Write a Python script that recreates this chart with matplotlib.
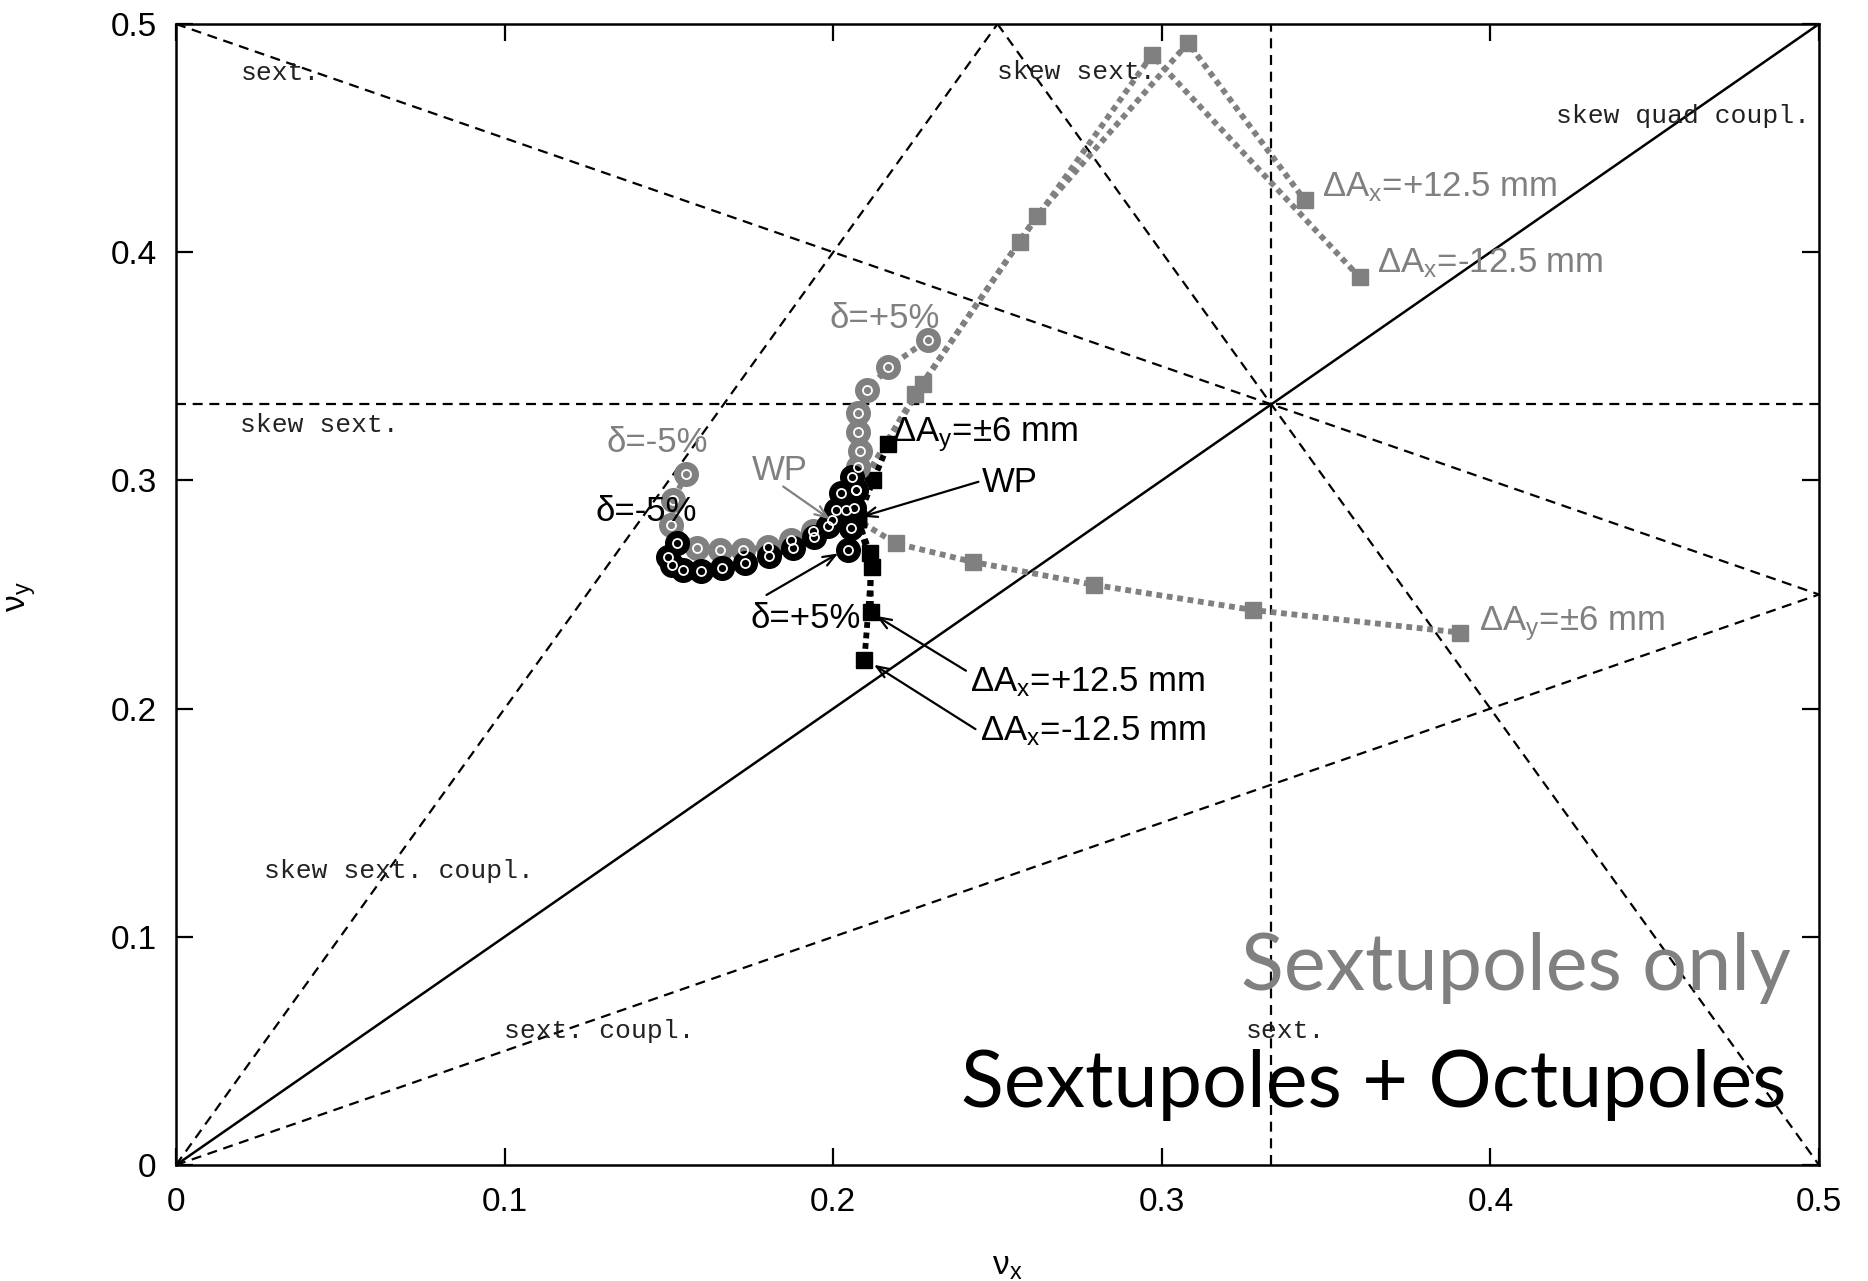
import matplotlib
matplotlib.use('Agg')
import matplotlib.pyplot as plt

plt.rcParams['mathtext.fontset'] = 'custom'
plt.rcParams['mathtext.rm'] = 'Liberation Sans'
plt.rcParams['mathtext.it'] = 'Liberation Sans'
plt.rcParams['font.family'] = ['Liberation Sans', 'DejaVu Sans']

# ---------------- data ----------------
# Sextupoles only (gray)
g_delta_x = [0.1553, 0.1513, 0.1507, 0.1584, 0.1655, 0.1726, 0.1802, 0.1873, 0.1940, 0.1995,
             0.2040, 0.2070, 0.2076, 0.2081, 0.2076, 0.2076, 0.2104, 0.2168, 0.2287]
g_delta_y = [0.3027, 0.2914, 0.2804, 0.2702, 0.2695, 0.2695, 0.2709, 0.2738, 0.2780, 0.2826,
             0.2870, 0.2960, 0.3060, 0.3130, 0.3213, 0.3294, 0.3396, 0.3495, 0.3615]
g_axp_x = [0.2035, 0.2273, 0.2620, 0.3080, 0.3435]
g_axp_y = [0.2860, 0.3424, 0.4160, 0.4917, 0.4228]
g_axm_x = [0.2035, 0.2250, 0.2567, 0.2970, 0.3602]
g_axm_y = [0.2860, 0.3380, 0.4045, 0.4864, 0.3890]
g_ay_x = [0.2035, 0.2191, 0.2424, 0.2795, 0.3277, 0.3908]
g_ay_y = [0.2860, 0.2724, 0.2643, 0.2542, 0.2432, 0.2333]

# Sextupoles + Octupoles (black)
b_delta_x = [0.1526, 0.1497, 0.1510, 0.1543, 0.1597, 0.1662, 0.1731, 0.1804, 0.1878, 0.1943,
             0.1985, 0.2010, 0.2025, 0.2056, 0.2070, 0.2062, 0.2055, 0.2046]
b_delta_y = [0.2724, 0.2665, 0.2628, 0.2607, 0.2604, 0.2615, 0.2636, 0.2669, 0.2702, 0.2751,
             0.2800, 0.2870, 0.2944, 0.3016, 0.2960, 0.2880, 0.2790, 0.2695]
b_ay_x = [0.2075, 0.2122, 0.2168]
b_ay_y = [0.2830, 0.3000, 0.3159]
b_axp_x = [0.2075, 0.2112, 0.2115]
b_axp_y = [0.2830, 0.2680, 0.2424]
b_axm_x = [0.2075, 0.2117, 0.2095]
b_axm_y = [0.2830, 0.2622, 0.2213]

# resonance lines (x0, y0, x1, y1)
res_dashed = [(0, 0.5, 0.5, 0.25), (0, 0, 0.25, 0.5), (0.25, 0.5, 0.5, 0),
              (0, 1/3, 0.5, 1/3), (1/3, 0, 1/3, 0.5), (0, 0, 0.5, 0.25)]
res_solid = [(0, 0, 0.5, 0.5)]
res_labels = [("sext.", 0.0196, 0.4755), ("skew sext.", 0.2498, 0.4760),
              ("skew quad coupl.", 0.4201, 0.4567), ("skew sext.", 0.0196, 0.3210),
              ("skew sext. coupl.", 0.0269, 0.1258), ("sext. coupl.", 0.0999, 0.0558),
              ("sext.", 0.3256, 0.0558)]

ticks = [0, 0.1, 0.2, 0.3, 0.4, 0.5]
tick_labels = ["0", "0.1", "0.2", "0.3", "0.4", "0.5"]

GRAY = '#808080'

# ---------------- figure ----------------
W, H = 1868, 1281
fig = plt.figure(figsize=(W / 100, H / 100), dpi=100)
ax = fig.add_axes([176 / W, 1 - 1165 / H, (1819 - 176) / W, (1165 - 24) / H])
ax.set_xlim(0, 0.5)
ax.set_ylim(0, 0.5)

for (x0, y0, x1, y1) in res_dashed:
    ax.plot([x0, x1], [y0, y1], color='black', lw=1.6, dashes=(4.5, 3), zorder=1)
for (x0, y0, x1, y1) in res_solid:
    ax.plot([x0, x1], [y0, y1], color='black', lw=1.8, zorder=1)

for (t, x, y) in res_labels:
    ax.text(x, y, t, family='Liberation Mono', fontsize=19, color='#222222',
            ha='left', va='baseline', zorder=2)

dot = (0, (1, 0.8))


def sq_line(xs, ys, color, ms):
    ax.plot(xs, ys, color=color, lw=4.2, linestyle=dot, marker='s', ms=ms,
            mec=color, mfc=color, zorder=3, dash_capstyle='butt')


def circ_line(xs, ys, color):
    ax.plot(xs, ys, color=color, lw=4.2, linestyle=dot, zorder=4, dash_capstyle='butt')
    ax.plot(xs, ys, linestyle='none', marker='o', ms=17, mfc=color, mec=color, zorder=5)
    ax.plot(xs, ys, linestyle='none', marker='o', ms=6.5, mfc='none', mec='white', mew=1.3, zorder=6)


# gray
sq_line(g_axp_x, g_axp_y, GRAY, 12)
sq_line(g_axm_x, g_axm_y, GRAY, 12)
sq_line(g_ay_x, g_ay_y, GRAY, 12)
circ_line(g_delta_x, g_delta_y, GRAY)

# black
circ_line(b_delta_x, b_delta_y, 'black')
sq_line(b_ay_x, b_ay_y, 'black', 11)
sq_line(b_axp_x, b_axp_y, 'black', 11)
sq_line(b_axm_x, b_axm_y, 'black', 11)

FS = 25
arrow = dict(arrowstyle='->,head_length=0.9,head_width=0.35', lw=1.6, shrinkA=0, shrinkB=0)
sub_x = 'ΔA$_{\\mathregular{x}}$'
sub_y = 'ΔA$_{\\mathregular{y}}$'

# gray labels
ax.text(0.1990, 0.3668, 'δ=+5%', color=GRAY, fontsize=FS, ha='left', va='baseline', zorder=7)
ax.text(0.1309, 0.3126, 'δ=-5%', color=GRAY, fontsize=FS, ha='left', va='baseline', zorder=7)
ax.text(0.1751, 0.3001, 'WP', color=GRAY, fontsize=FS, ha='left', va='baseline', zorder=7)
ax.annotate('', xy=(0.1990, 0.2830), xytext=(0.1848, 0.2973),
            arrowprops=dict(arrow, color=GRAY), zorder=7)
ax.text(0.3488, 0.4243, sub_x + '=+12.5 mm', color=GRAY, fontsize=FS,
        ha='left', va='baseline', zorder=7)
ax.text(0.3656, 0.3910, sub_x + '=-12.5 mm', color=GRAY, fontsize=FS,
        ha='left', va='baseline', zorder=7)
ax.text(0.3966, 0.2341, sub_y + '=±6 mm', color=GRAY, fontsize=FS,
        ha='left', va='baseline', zorder=7)

# black labels
ax.text(0.2179, 0.3173, sub_y + '=±6 mm', color='black', fontsize=FS,
        ha='left', va='baseline', zorder=7)
ax.text(0.2451, 0.2949, 'WP', color='black', fontsize=FS, ha='left', va='baseline', zorder=7)
ax.annotate('', xy=(0.2087, 0.2841), xytext=(0.2442, 0.2994),
            arrowprops=dict(arrow, color='black'), zorder=7)
ax.text(0.1278, 0.2823, 'δ=-5%', color='black', fontsize=FS, ha='left', va='baseline', zorder=7)
ax.text(0.1747, 0.2352, 'δ=+5%', color='black', fontsize=FS, ha='left', va='baseline', zorder=7)
ax.annotate('', xy=(0.2015, 0.2680), xytext=(0.1797, 0.2498),
            arrowprops=dict(arrow, color='black'), zorder=7)
ax.text(0.2417, 0.2074, sub_x + '=+12.5 mm', color='black', fontsize=FS,
        ha='left', va='baseline', zorder=7)
ax.annotate('', xy=(0.2131, 0.2406), xytext=(0.2404, 0.2166),
            arrowprops=dict(arrow, color='black'), zorder=7)
ax.text(0.2447, 0.1863, sub_x + '=-12.5 mm', color='black', fontsize=FS,
        ha='left', va='baseline', zorder=7)
ax.annotate('', xy=(0.2124, 0.2192), xytext=(0.2433, 0.1910),
            arrowprops=dict(arrow, color='black'), zorder=7)

# big titles
ax.text(0.4913, 0.0767, 'Sextupoles only', family='Lato', fontsize=57, color=GRAY,
        ha='right', va='baseline', zorder=8)
ax.text(0.4902, 0.0256, 'Sextupoles + Octupoles', family='Lato', fontsize=57, color='black',
        ha='right', va='baseline', zorder=8)

# axes styling
ax.set_xticks(ticks)
ax.set_xticklabels(tick_labels)
ax.set_yticks(ticks)
ax.set_yticklabels(tick_labels)
ax.tick_params(direction='in', length=12, width=1.6, labelsize=24, top=True, right=True,
               pad=14)
ax.tick_params(axis='x', pad=16)
for s in ax.spines.values():
    s.set_linewidth(1.8)

fig.text(1007 / W, 1 - 1266 / H, 'ν$_{\\mathregular{x}}$', fontsize=24, ha='center', va='center')
fig.text(22 / W, 1 - 597 / H, 'ν$_{\\mathregular{y}}$', fontsize=24, ha='center', va='center',
         rotation=90)

fig.savefig('out.png', dpi=100)
